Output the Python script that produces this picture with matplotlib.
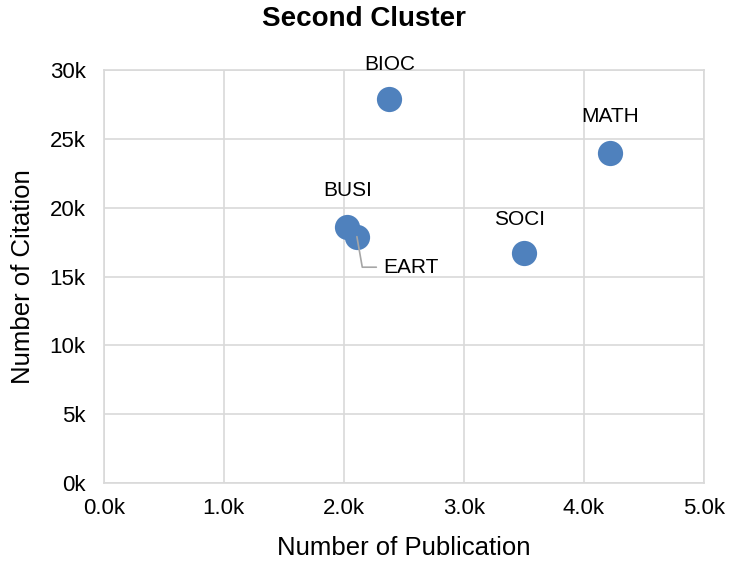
import matplotlib
matplotlib.use("Agg")
import matplotlib.pyplot as plt
from matplotlib.ticker import FuncFormatter, MultipleLocator

plt.rcParams['font.family'] = ['Liberation Sans', 'DejaVu Sans']

subjects = ["BIOC", "MATH", "BUSI", "EART", "SOCI"]
publications = [2380, 4220, 2030, 2110, 3500]
citations = [27900, 24000, 18600, 17900, 16700]

fig = plt.figure(figsize=(7.3, 5.65), dpi=100)
ax = fig.add_axes([0.142, 0.145, 0.822, 0.731])

ax.scatter(publications, citations, s=330, color="#4F81BD", zorder=3, linewidths=0)

ax.set_xlim(0, 5000)
ax.set_ylim(0, 30000)
ax.xaxis.set_major_locator(MultipleLocator(1000))
ax.yaxis.set_major_locator(MultipleLocator(5000))
ax.xaxis.set_major_formatter(FuncFormatter(lambda v, p: f"{v/1000:.1f}k"))
ax.yaxis.set_major_formatter(FuncFormatter(lambda v, p: f"{v/1000:.0f}k"))
ax.grid(True, color="#D9D9D9", linewidth=1.2, zorder=0)
ax.set_axisbelow(True)
for s in ax.spines.values():
    s.set_color("#D9D9D9")
    s.set_linewidth(1.2)
ax.tick_params(length=0, labelsize=16, colors="#000000")
ax.tick_params(axis="y", pad=13)
ax.tick_params(axis="x", pad=11)

ax.set_xlabel("Number of Publication", fontsize=18.5, va="center")
ax.set_ylabel("Number of Citation", fontsize=18.5, va="center")
ax.xaxis.set_label_coords(0.5, -0.157)
ax.yaxis.set_label_coords(-0.134, 0.5)
fig.text(0.498, 0.966, "Second Cluster", fontsize=20, fontweight="bold",
         ha="center", va="center")

offsets = {"BIOC": (0, 25), "MATH": (0, 26), "BUSI": (0, 26), "SOCI": (-3, 24)}
for name, x, y in zip(subjects, publications, citations):
    if name == "EART":
        ax.annotate(name, (x, y), xytext=(19, -22), textcoords="offset points",
                    fontsize=15, ha="left", va="center", zorder=4,
                    arrowprops=dict(arrowstyle="-", color="#A6A6A6", lw=1.2,
                                    connectionstyle="angle,angleA=0,angleB=100,rad=0",
                                    shrinkA=3, shrinkB=0))
    else:
        dx, dy = offsets[name]
        ax.annotate(name, (x, y), xytext=(dx, dy), textcoords="offset points",
                    fontsize=15, ha="center", va="center")

fig.savefig("out.png", dpi=100)
